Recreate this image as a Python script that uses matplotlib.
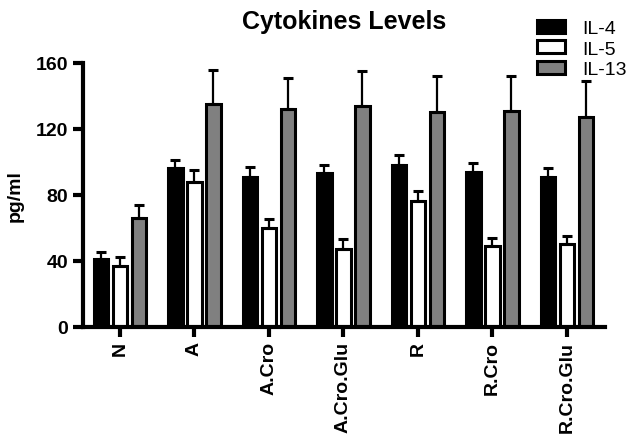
import numpy as np
import matplotlib.pyplot as plt

plt.rcParams['font.family'] = ['Liberation Sans', 'DejaVu Sans']

gruppi = ["N", "A", "A.Cro", "A.Cro.Glu", "R", "R.Cro", "R.Cro.Glu"]
il4 = [41, 96, 91, 93, 98, 94, 91]
il4_err = [4, 5, 6, 5, 6, 5, 5]
il5 = [37, 88, 60, 47, 76, 49, 50]
il5_err = [5, 7, 5, 6, 6, 5, 5]
il13 = [66, 135, 132, 134, 130, 131, 127]
il13_err = [8, 21, 19, 21, 22, 21, 22]

fig = plt.figure(figsize=(6.3, 4.35), dpi=100)
ax = fig.add_axes([0.1317, 0.247, 0.8286, 0.606])

x = np.arange(len(gruppi))
w = 0.2
off = 0.255
ek = dict(lw=1.6, capsize=3.3, capthick=2.2, ecolor="black")
ax.bar(x - off, il4, w, color="black", edgecolor="black", linewidth=2.2, label="IL-4")
ax.errorbar(x - off, il4, yerr=[np.zeros(7), il4_err], fmt="none", **ek)
ax.bar(x, il5, w, color="white", edgecolor="black", linewidth=2.2, label="IL-5")
ax.errorbar(x, il5, yerr=[np.zeros(7), il5_err], fmt="none", **ek)
ax.bar(x + off, il13, w, color="#808080", edgecolor="black", linewidth=2.2, label="IL-13")
ax.errorbar(x + off, il13, yerr=[np.zeros(7), il13_err], fmt="none", **ek)

ax.set_xlim(-0.497, 6.51)
ax.set_ylim(0, 160)
ax.set_yticks([0, 40, 80, 120, 160])
ax.set_xticks(x)
ax.set_xticklabels(gruppi, rotation=90, fontweight="bold", fontsize=14)
for t in ax.get_yticklabels():
    t.set_fontweight("bold")
    t.set_fontsize(14)
ax.spines["top"].set_visible(False)
ax.spines["right"].set_visible(False)
ax.spines["left"].set_linewidth(3)
ax.spines["bottom"].set_linewidth(3)
ax.tick_params(axis="both", width=3, length=7.5, direction="out", pad=3)
ax.set_ylabel("pg/ml", fontweight="bold", fontsize=14, labelpad=9)
ax.set_title("Cytokines Levels", fontweight="bold", fontsize=18, pad=25)

ax.legend(loc="upper left", bbox_to_anchor=(0.852, 0.952), bbox_transform=fig.transFigure,
          frameon=False, fontsize=14, borderpad=0, borderaxespad=0,
          handlelength=1.45, handleheight=0.67, labelspacing=0.15, handletextpad=0.88)

fig.savefig("out.png")
